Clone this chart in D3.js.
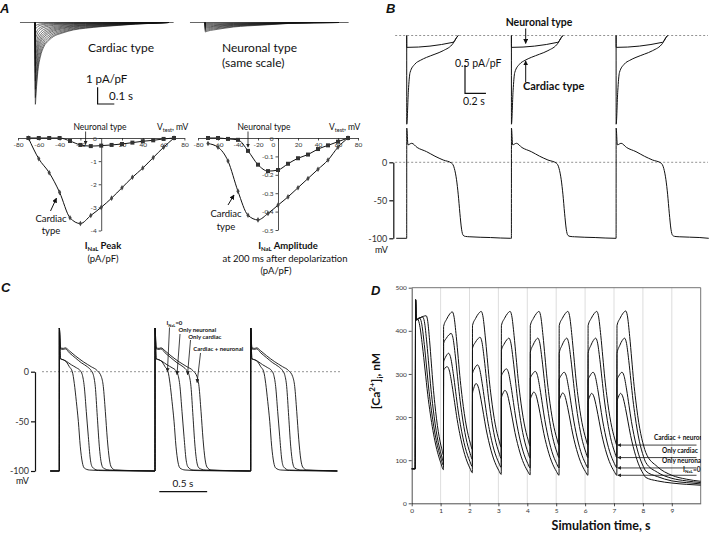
<!DOCTYPE html>
<html><head><meta charset="utf-8">
<script src="https://cdn.jsdelivr.net/npm/d3@7/dist/d3.min.js"></script>
<style>
html,body{margin:0;padding:0;background:#fff;}
svg{display:block;}
text{font-family:Lato,"Open Sans","DejaVu Sans",sans-serif;fill:#111;}
.tick text{font-family:Lato,"Open Sans",sans-serif;fill:#333;}
</style></head><body>
<svg id="fig" width="711" height="533" viewBox="0 0 711 533"></svg>
<script>
// ================= DATA =================
// Panel A – I-V relations (mV, pA/pF)
const testVoltages   = [-70,-60,-50,-40,-30,-20,-10,0,10,20,30,40,50,60,70];
const cardiacPeak    = [0,-0.9,-1.5,-2.35,-3.45,-3.7,-3.35,-3.0,-2.6,-2.15,-1.7,-1.3,-0.85,-0.4,0];
const neuronalPeak   = [0,0,0,0,-0.13,-0.3,-0.35,-0.33,-0.3,-0.26,-0.2,-0.14,-0.1,-0.04,0];
const cardiacAmp200  = [-0.03,-0.05,-0.125,-0.29,-0.42,-0.445,-0.41,-0.365,-0.32,-0.27,-0.22,-0.17,-0.12,-0.05,0];
const neuronalAmp200 = [0,0,-0.005,-0.01,-0.07,-0.145,-0.18,-0.174,-0.14,-0.11,-0.09,-0.06,-0.04,-0.02,0];
const peakTicksX = [-80,-60,-40,-20,20,40,60,80];
const ampTicksX  = [-80,-60,-40,-20,0,20,40,60,80];
const peakTicksY = [0,-1,-2,-3,-4];
const ampTicksY  = [0,-0.1,-0.2,-0.3,-0.4,-0.5];

// Panel A – current trace families (pA/pF) and their decay (s, fraction of peak)
const cardiacTraceAmps  = [-4.9,-4.5,-4.0,-3.5,-3.0,-2.6,-2.2,-1.8,-1.4,-1.0,-0.7,-0.4,-0.2];
const neuronalTraceAmps = [-0.57,-0.5,-0.43,-0.36,-0.3,-0.24,-0.18,-0.12,-0.06];
const cardiacDecayT  = [0,0.005,0.015,0.03,0.05,0.08,0.11,0.16,0.23,0.3,0.4,0.5,0.6,0.7,0.8];
const cardiacDecayF  = [1,0.85,0.6,0.42,0.3,0.22,0.17,0.13,0.09,0.07,0.05,0.035,0.02,0.01,0];
const neuronalDecayT = [0,0.01,0.05,0.1,0.17,0.25,0.37,0.5,0.65,0.8];
const neuronalDecayF = [1,0.92,0.78,0.64,0.47,0.36,0.24,0.1,0.03,0];

// Panel B – one beat (ms from upstroke); beats at 0,1,2 s
const beatsB = [0,1,2];
const cardiacINaLT = [0,0.5,16,32,79,130,190,270,349,444,476,492];
const cardiacINaL  = [0,-1.57,-0.98,-0.655,-0.505,-0.44,-0.387,-0.33,-0.268,-0.137,-0.04,0];
const neuronalINaLT = [0,0.5,444,476,492];
const neuronalINaL  = [0,-0.21,-0.12,-0.035,0];
const apBT = [0,0.5,12,48,100,190,270,349,429,455,476,492,508,524,539,560,603,800,990];
const apBV = [-100,45,23,25,19.5,14,8,3,-1,-8,-23,-42,-67,-88,-96,-97.5,-98,-99,-100];
const voltTicks = [0,-50,-100];

// Panel C – four APs (ms from upstroke); beats at 0,1,2 s
const beatsC = [0,1,2];
const apNames = ["I_NaL=0","Only neuronal","Only cardiac","Cardiac + neuronal"];
const apT0 = [0,0.5,12,42,73,105,136,157,178,199,219,240,261,314,500,990];
const apV0 = [-100,44,13,12,10,5,0,-12,-30,-50,-75,-91,-97,-99,-99.7,-100];
const apTN = [0,0.5,12,42,73,125,178,219,240,261,282,303,324,345,397,679,990];
const apVN = [-100,44,13,12,10.5,7,4,1,-3,-15,-40,-65,-88,-96,-99,-99.7,-100];
const apTC = [0,0.5,12,42,63,105,167,230,293,334,355,376,397,418,439,460,523,784,990];
const apVC = [-100,44,23,22.5,23,19,14,9,5,1,-3,-15,-45,-75,-92,-97,-99,-99.7,-100];
const apTCN = [0,0.5,12,42,63,105,167,251,334,397,439,460,481,502,523,543,585,836,990];
const apVCN = [-100,44,24,23.5,24,21,16,10,5,1,-5,-15,-40,-68,-88,-96,-99,-99.7,-100];
// arrow targets in C (s after 2nd beat, mV)
const apCrossT = [0.13,0.23,0.34,0.44];
const apCrossV = [0,-3,-3,-11];

// Panel D – [Ca2+]i (nM); traces: C+N, only cardiac, only neuronal, I_NaL=0
const caNames = ["Cardiac + neuronal","Only cardiac","Only neuronal","I_NaL=0"];
const caTimeTicks  = [0,1,2,3,4,5,6,7,8,9];
const caValueTicks = [0,100,200,300,400,500];
const caOnsets  = [0.16,1.1,2.1,3.1,4.1,5.1,6.1,7.1];
const caPrefixT = [0,0.12,0.135];
const caPrefixV = [80,80,472];
const caStart = [[425,410,412,412,412,412,412,412],
                 [425,371,360,355,350,348,348,348],
                 [425,328,301,295,290,287,286,286],
                 [425,309,255,244,240,237,236,236]];
const caPeak  = [[435,444,445,445,445,445,445,446],
                 [432,394,385,383,383,383,383,383],
                 [430,348,321,312,306,304,304,304],
                 [428,317,278,262,258,256,255,255]];
const caMin   = [[112,125,130,133,135,135,135,118],
                 [97,102,104,105,106,106,106,95],
                 [88,85,83,82,82,82,82,75],
                 [78,71,67,66,65,65,65,60]];
const caPeakDelayFirst = [0.34,0.22,0.11,0.03];
const caPeakDelay      = [0.3,0.26,0.17,0.12];
const caRiseU = [0,0.35,0.7,1];
const caRiseF = [0,0.5,0.85,1];
const caFallU = [0,0.08,0.2,0.3,0.4,0.5,0.6,0.7,0.8,0.9,1];
const caFallF = [1,0.97,0.82,0.66,0.5,0.37,0.26,0.17,0.1,0.045,0];
const caTailT = [8.1,8.5,9,9.5,10];
const caTail  = [[118,85,65,56,51],[95,72,58,52,48],[75,62,52,48,45],[60,52,47,44,42]];

// ================= DRAWING =================
const svg = d3.select("#fig");
const defs = svg.append("defs");
defs.append("marker").attr("id","ah").attr("viewBox","0 0 10 10").attr("refX",9).attr("refY",5)
  .attr("markerWidth",5).attr("markerHeight",5).attr("markerUnits","userSpaceOnUse").attr("orient","auto")
  .append("path").attr("d","M0,0 L10,5 L0,10 Z").attr("fill","#111");
defs.append("marker").attr("id","ahs").attr("viewBox","0 0 10 10").attr("refX",9).attr("refY",5)
  .attr("markerWidth",4).attr("markerHeight",4).attr("markerUnits","userSpaceOnUse").attr("orient","auto")
  .append("path").attr("d","M0,0 L10,5 L0,10 Z").attr("fill","#222");
defs.append("clipPath").attr("id","clipD").append("rect").attr("x",411).attr("y",286).attr("width",290).attr("height",220);

const mono = d3.curveMonotoneX;
function drawLine(g, pts, xs, ys, opts={}){
  return g.append("path").attr("d", d3.line().x(d=>xs(d[0])).y(d=>ys(d[1])).curve(opts.curve||mono)(pts))
    .attr("fill","none").attr("stroke",opts.stroke||"#111").attr("stroke-width",opts.sw||1)
    .attr("stroke-dasharray",opts.dash||null);
}
function txt(g, x, y, s, o={}){
  return g.append("text").attr("x",x).attr("y",y).text(s)
    .attr("font-size",o.size||10).attr("font-weight",o.bold?"bold":null)
    .attr("text-anchor",o.anchor||"start").attr("font-style",o.italic?"italic":null);
}
function arrow(g,x1,y1,x2,y2,small){
  g.append("line").attr("x1",x1).attr("y1",y1).attr("x2",x2).attr("y2",y2)
   .attr("stroke","#111").attr("stroke-width",small?0.8:1).attr("marker-end",small?"url(#ahs)":"url(#ah)");
}
function panelLetter(x,y,s){
  svg.append("text").attr("x",x).attr("y",y).text(s).attr("font-size",13).attr("font-weight","bold")
    .attr("font-style","italic").style("font-family","'Liberation Sans',Arial,sans-serif");
}
function styleAxis(g, fs){
  g.selectAll("path,line").attr("stroke","#222").attr("stroke-width",0.8);
  g.selectAll("text").attr("font-size",fs).attr("fill","#333");
}
const fmt = d => String(d);

// ---------- Panel A top ----------
const gA = svg.append("g");
panelLetter(0,13,"A");
const xAc = d3.scaleLinear().domain([0,1]).range([35,202]);
const xAn = d3.scaleLinear().domain([0,1]).range([205,372]);
const yAt = d3.scaleLinear().domain([0,-1]).range([22.5,39.2]);
gA.append("line").attr("x1",xAc(-0.09)).attr("x2",xAc(0.83)).attr("y1",yAt(0)).attr("y2",yAt(0)).attr("stroke","#666");
gA.append("line").attr("x1",xAn(-0.09)).attr("x2",xAn(0.86)).attr("y1",yAt(0)).attr("y2",yAt(0)).attr("stroke","#666");
cardiacTraceAmps.forEach(a=>{
  const pts=[[0,0]].concat(cardiacDecayT.map((t,i)=>[t+0.002,a*cardiacDecayF[i]]));
  drawLine(gA,pts,xAc,yAt,{sw:0.6});
});
neuronalTraceAmps.forEach(a=>{
  const pts=[[0,0]].concat(neuronalDecayT.map((t,i)=>[t+0.002,a*neuronalDecayF[i]]));
  drawLine(gA,pts,xAn,yAt,{sw:0.6});
});
txt(gA,88,52,"Cardiac type",{size:12});
txt(gA,222,52,"Neuronal type",{size:12});
txt(gA,222,67,"(same scale)",{size:12});
txt(gA,86,83,"1 pA/pF",{size:11.5});
{
  const bx=97.6, by=104, h=yAt(-1)-yAt(0), w=xAc(0.1)-xAc(0);
  gA.append("path").attr("d",`M${bx},${by-h} L${bx},${by} L${bx+w},${by}`).attr("fill","none").attr("stroke","#111").attr("stroke-width",1.2);
  txt(gA,109,100,"0.1 s",{size:11.5});
}

// ---------- Panel A bottom left (peak) ----------
const xIV1 = d3.scaleLinear().domain([-80,80]).range([18,184.4]);
const yIV1 = d3.scaleLinear().domain([0,-4]).range([138,230.5]);
{
  const g=svg.append("g");
  const ax=g.append("g").attr("transform",`translate(0,${yIV1(0)})`)
    .call(d3.axisBottom(xIV1).tickValues(peakTicksX).tickFormat(fmt).tickSize(2.5).tickSizeOuter(0).tickPadding(2));
  styleAxis(ax,6.5);
  const ay=g.append("g").attr("transform",`translate(${xIV1(0)},0)`)
    .call(d3.axisLeft(yIV1).tickValues(peakTicksY).tickFormat(fmt).tickSize(2.5).tickSizeOuter(0).tickPadding(2));
  styleAxis(ay,6.5);
  const cp=testVoltages.map((v,i)=>[v,cardiacPeak[i]]);
  const np=testVoltages.map((v,i)=>[v,neuronalPeak[i]]);
  drawLine(g,cp,xIV1,yIV1,{sw:1});
  drawLine(g,np,xIV1,yIV1,{sw:1});
  g.selectAll(".cd").data(cp).enter().append("path").attr("d",d3.symbol(d3.symbolDiamond,9))
    .attr("transform",d=>`translate(${xIV1(d[0])},${yIV1(d[1])})`).attr("fill","#444");
  g.selectAll(".ns").data(np).enter().append("rect").attr("x",d=>xIV1(d[0])-2).attr("y",d=>yIV1(d[1])-2)
    .attr("width",4).attr("height",4).attr("fill","#333");
  txt(g,100,129.5,"Neuronal type",{size:8.5,anchor:"middle"});
  arrow(g,xIV1(-15),131.5,xIV1(-15),yIV1(-0.3)-0.5,true);
  const vt=txt(g,157,130,"V",{size:8.5});
  vt.append("tspan").text("test").attr("font-size",5.5).attr("dy",2);
  vt.append("tspan").text(", mV").attr("dy",-2);
  txt(g,51,222,"Cardiac",{size:9.5,anchor:"middle"});
  txt(g,51,234,"type",{size:9.5,anchor:"middle"});
  arrow(g,50.5,211,xIV1(-43),yIV1(-2.6),false);
  const t1=txt(g,103,249,"I",{size:9.5,bold:true,anchor:"middle"});
  t1.append("tspan").text("NaL").attr("font-size",6).attr("dy",2);
  t1.append("tspan").text(" Peak").attr("dy",-2);
  txt(g,103,262,"(pA/pF)",{size:9.5,anchor:"middle"});
}

// ---------- Panel A bottom right (amplitude at 200 ms) ----------
const xIV2 = d3.scaleLinear().domain([-80,80]).range([198,358]);
const yIV2 = d3.scaleLinear().domain([0,-0.5]).range([138,230]);
{
  const g=svg.append("g");
  const ax=g.append("g").attr("transform",`translate(0,${yIV2(0)})`)
    .call(d3.axisBottom(xIV2).tickValues(ampTicksX).tickFormat(fmt).tickSize(2.5).tickSizeOuter(0).tickPadding(2));
  styleAxis(ax,6.5);
  ax.selectAll(".tick").filter(d=>d===0).select("text").attr("dx",-5);
  const ay=g.append("g").attr("transform",`translate(${xIV2(0)},0)`)
    .call(d3.axisLeft(yIV2).tickValues(ampTicksY).tickFormat(fmt).tickSize(2.5).tickSizeOuter(0).tickPadding(2));
  styleAxis(ay,6.5);
  const cp=testVoltages.map((v,i)=>[v,cardiacAmp200[i]]);
  const np=testVoltages.map((v,i)=>[v,neuronalAmp200[i]]);
  drawLine(g,cp,xIV2,yIV2,{sw:1});
  drawLine(g,np,xIV2,yIV2,{sw:1});
  g.selectAll(".cd").data(cp).enter().append("path").attr("d",d3.symbol(d3.symbolDiamond,9))
    .attr("transform",d=>`translate(${xIV2(d[0])},${yIV2(d[1])})`).attr("fill","#444");
  g.selectAll(".ns").data(np).enter().append("rect").attr("x",d=>xIV2(d[0])-2).attr("y",d=>yIV2(d[1])-2)
    .attr("width",4).attr("height",4).attr("fill","#333");
  txt(g,264,129.5,"Neuronal type",{size:8.5,anchor:"middle"});
  arrow(g,xIV2(-30),131.5,xIV2(-30),yIV2(-0.05),true);
  const vt=txt(g,329,130,"V",{size:8.5});
  vt.append("tspan").text("test").attr("font-size",5.5).attr("dy",2);
  vt.append("tspan").text(", mV").attr("dy",-2);
  txt(g,226,217,"Cardiac",{size:9.5,anchor:"middle"});
  txt(g,226,230,"type",{size:9.5,anchor:"middle"});
  arrow(g,228,205,xIV2(-44),yIV2(-0.31),false);
  const t1=txt(g,288,249,"I",{size:9.5,bold:true,anchor:"middle"});
  t1.append("tspan").text("NaL").attr("font-size",6).attr("dy",2);
  t1.append("tspan").text(" Amplitude").attr("dy",-2);
  txt(g,285,262,"at 200 ms after depolarization",{size:9.5,anchor:"middle"});
  txt(g,276,274,"(pA/pF)",{size:9.5,anchor:"middle"});
}

// ---------- Panel B ----------
panelLetter(386,13,"B");
const xB  = d3.scaleLinear().domain([0,1]).range([406.7,511.4]);
const yBI = d3.scaleLinear().domain([0,-1]).range([35.5,92]);
const yBV = d3.scaleLinear().domain([0,-100]).range([162.3,238.3]);
{
  const g=svg.append("g");
  g.append("line").attr("x1",xB(-0.11)).attr("x2",708).attr("y1",yBI(0)).attr("y2",yBI(0))
    .attr("stroke","#777").attr("stroke-width",0.8).attr("stroke-dasharray","2,2");
  g.append("line").attr("x1",xB(-0.11)).attr("x2",708).attr("y1",yBV(0)).attr("y2",yBV(0))
    .attr("stroke","#777").attr("stroke-width",0.8).attr("stroke-dasharray","2,2");
  beatsB.forEach(b=>{
    drawLine(g,cardiacINaLT.map((t,i)=>[b+t/1000,cardiacINaL[i]]),xB,yBI);
    drawLine(g,neuronalINaLT.map((t,i)=>[b+t/1000,neuronalINaL[i]]),xB,yBI);
  });
  let ap=[[-0.1,-100]];
  beatsB.forEach(b=>{ apBT.forEach((t,i)=>{ const tt=b+t/1000; if(tt<=2.88) ap.push([tt,apBV[i]]); }); });
  ap.push([2.885,-100]);
  drawLine(g,ap,xB,yBV);
  const ay=g.append("g").attr("transform","translate(393.3,0)")
    .call(d3.axisLeft(yBV).tickValues(voltTicks).tickFormat(fmt).tickSize(4).tickSizeOuter(0).tickPadding(2));
  styleAxis(ay,9); ay.selectAll("path,line").attr("stroke-width",1.2).attr("stroke","#111");
  txt(g,381.5,252.5,"mV",{size:9,anchor:"middle"});
  txt(g,539,26,"Neuronal type",{size:10.5,bold:true,anchor:"middle"});
  arrow(g,525.7,28.5,525.7,yBI(-0.14),false);
  txt(g,523,90,"Cardiac type",{size:11,bold:true});
  arrow(g,525.7,82,525.7,yBI(-0.45),false);
  txt(g,455,67,"0.5 pA/pF",{size:10.5});
  const sx=465, sy=93.3, h=yBI(-0.5)-yBI(0), w=xB(0.2)-xB(0);
  g.append("path").attr("d",`M${sx},${sy-h} L${sx},${sy} L${sx+w},${sy}`).attr("fill","none").attr("stroke","#111").attr("stroke-width",1.2);
  txt(g,463,104.5,"0.2 s",{size:10.5});
}

// ---------- Panel C ----------
panelLetter(1,292,"C");
const xC = d3.scaleLinear().domain([0,1]).range([59.3,155]);
const yC = d3.scaleLinear().domain([0,-100]).range([371.7,471]);
{
  const g=svg.append("g");
  g.append("line").attr("x1",42).attr("x2",342).attr("y1",yC(0)).attr("y2",yC(0))
    .attr("stroke","#777").attr("stroke-width",0.8).attr("stroke-dasharray","2,2");
  const sets=[[apT0,apV0],[apTN,apVN],[apTC,apVC],[apTCN,apVCN]];
  sets.forEach(([T,V])=>{
    let pts=[[-0.095,-100]];
    beatsC.forEach(b=>{ T.forEach((t,i)=>{ const tt=b+t/1000; if(tt<=2.9) pts.push([tt,V[i]]); }); });
    pts.push([2.905,-100]);
    drawLine(g,pts,xC,yC,{sw:0.9});
  });
  const ay=g.append("g").attr("transform","translate(35,0)")
    .call(d3.axisLeft(yC).tickValues(voltTicks).tickFormat(fmt).tickSize(4).tickSizeOuter(0).tickPadding(2));
  styleAxis(ay,9); ay.selectAll("path,line").attr("stroke-width",1.2).attr("stroke","#111");
  txt(g,22.5,484,"mV",{size:9,anchor:"middle"});
  // scale bar 0.5 s
  g.append("line").attr("x1",159.3).attr("x2",159.3+(xC(0.5)-xC(0))).attr("y1",491.7).attr("y2",491.7).attr("stroke","#111").attr("stroke-width",1.2);
  txt(g,183,487,"0.5 s",{size:10,anchor:"middle"});
  // labels and arrows
  const lx=[166.5,178.5,188.3,193.3], ly=[325.2,332.2,338.5,351], ax0=[169.5,180,190.5,200.5], ay0=[327.5,334,340,353];
  apNames.forEach((n,i)=>{
    let t;
    if(i===0){ t=txt(g,lx[i],ly[i],"I",{size:6,bold:true}); t.append("tspan").text("NaL").attr("font-size",4).attr("dy",1.3); t.append("tspan").text("=0").attr("dy",-1.3); }
    else t=txt(g,lx[i],ly[i],n,{size:6,bold:true});
    arrow(g,ax0[i],ay0[i],xC(1+apCrossT[i]),yC(apCrossV[i]),true);
  });
}

// ---------- Panel D ----------
panelLetter(371,295,"D");
const xD = d3.scaleLinear().domain([0,10]).range([411.7,700.7]);
const yD = d3.scaleLinear().domain([0,500]).range([503.3,287.7]);
{
  const g=svg.append("g");
  caTimeTicks.filter(t=>t>0).forEach(t=>{
    g.append("line").attr("x1",xD(t)).attr("x2",xD(t)).attr("y1",yD(0)).attr("y2",yD(500)).attr("stroke","#d4d4d4").attr("stroke-width",0.8);
  });
  g.append("path").attr("d",`M${xD(0)},${yD(500)} L${xD(10)},${yD(500)} L${xD(10)},${yD(0)}`).attr("fill","none").attr("stroke","#666").attr("stroke-width",0.9);
  const gl=g.append("g").attr("clip-path","url(#clipD)");
  function caSeries(k){
    const pts=caPrefixT.map((t,i)=>[t,caPrefixV[i]]);
    caOnsets.forEach((on,b)=>{
      const end = b+1<caOnsets.length ? caOnsets[b+1] : caTailT[0];
      const pd=(b===0?caPeakDelayFirst:caPeakDelay)[k];
      const st=caStart[k][b], pk=caPeak[k][b], mn=caMin[k][b];
      const s0 = b===0 ? on : on+0.004;
      pts.push([s0,st]);
      caRiseU.forEach((u,i)=>{ if(i>0) pts.push([s0+u*pd, st+(pk-st)*caRiseF[i]]); });
      const fs=s0+pd, fe=end-0.002;
      caFallU.forEach((u,i)=>{ if(i>0) pts.push([fs+u*(fe-fs), mn+(pk-mn)*caFallF[i]]); });
    });
    caTailT.forEach((t,i)=>{ if(i>0) pts.push([t,caTail[k][i]]); });
    return pts;
  }
  [3,2,1,0].forEach(k=>drawLine(gl,caSeries(k),xD,yD,{sw:1}));
  const ax=g.append("g").attr("transform",`translate(0,${yD(0)})`)
    .call(d3.axisBottom(xD).tickValues(caTimeTicks).tickFormat(fmt).tickSize(3).tickSizeOuter(0).tickPadding(2));
  styleAxis(ax,6.5);
  const ay=g.append("g").attr("transform",`translate(${xD(0)},0)`)
    .call(d3.axisLeft(yD).tickValues(caValueTicks).tickFormat(fmt).tickSize(3).tickSizeOuter(0).tickPadding(2));
  styleAxis(ay,6.5);
  // arrows + labels
  const labX=[654,662,662,683], labDy=[-5,-5,-4.5,-3.5];
  caNames.forEach((n,k)=>{
    const yv=yD(caMin[k][6]);
    arrow(g,696.5,yv,xD(7.13),yv,true);
    let t;
    if(k===3){ t=txt(gl,labX[k],yv+labDy[k],"I",{size:6.5,bold:true}); t.append("tspan").text("NaL").attr("font-size",4.5).attr("dy",1.5); t.append("tspan").text("=0").attr("dy",-1.5); }
    else t=txt(gl,labX[k],yv+labDy[k],n,{size:6.5,bold:true});
  });
  // axis titles
  const yt=g.append("text").attr("transform","translate(380,381) rotate(-90)").attr("text-anchor","middle")
    .attr("font-size",12).attr("font-weight","bold");
  yt.append("tspan").text("[Ca");
  yt.append("tspan").text("2+").attr("font-size",8).attr("dy",-5);
  yt.append("tspan").text("]").attr("dy",5);
  yt.append("tspan").text("i").attr("font-size",8).attr("dy",3);
  yt.append("tspan").text(", nM").attr("dy",-3);
  txt(g,601,530,"Simulation time, s",{size:12.5,bold:true,anchor:"middle"});
}
</script>
</body></html>
